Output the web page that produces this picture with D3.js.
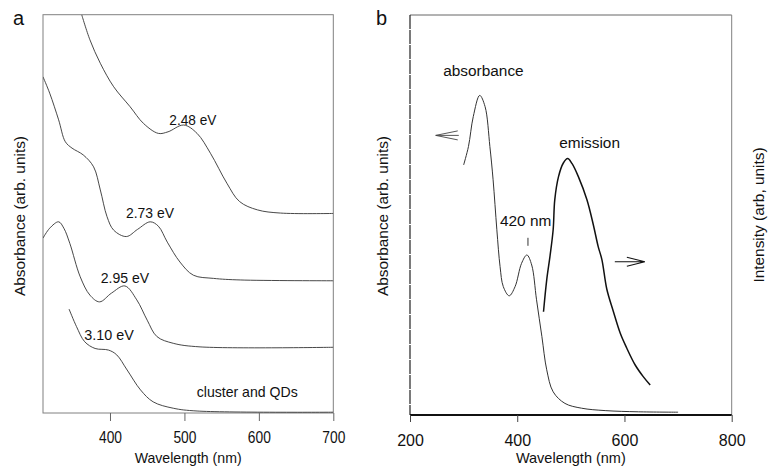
<!DOCTYPE html>
<html>
<head>
<meta charset="utf-8">
<script src="https://cdn.jsdelivr.net/npm/d3@7"></script>
<style>
body { margin: 0; background: #fff; }
svg { display: block; font-family: "Liberation Sans", Arial, Helvetica, sans-serif; }
</style>
</head>
<body>
<svg id="chart" width="768" height="468"></svg>
<script>
// ---- panel a: absorbance of cluster and QDs, stacked (arb. units, 0-100) ----
var wl248 = [362, 373, 387, 405, 427, 445, 465, 478, 499, 517, 535, 557, 574, 598, 629, 700];
var abs248 = [100, 93.7, 87.8, 81.9, 76.9, 72.7, 70.2, 70.6, 72.3, 70.2, 65.2, 57.7, 53.1, 51.0, 50.2, 50.1];

var wl273 = [310, 319, 331, 340, 349, 364, 378, 387, 396, 405, 422, 437, 454, 465, 477, 494, 512, 539, 575, 700];
var abs273 = [84.4, 80.3, 73.6, 68.1, 66.5, 64.8, 61.8, 56.0, 49.3, 45.9, 44.3, 46.1, 48.0, 46.9, 42.9, 37.9, 34.6, 33.8, 33.4, 33.2];

var wl295 = [310, 319, 331, 338, 346, 360, 373, 386, 402, 420, 436, 450, 463, 485, 521, 700];
var abs295 = [43.9, 46.4, 48.0, 46.4, 42.6, 34.2, 29.6, 27.9, 30.1, 31.9, 28.4, 23.3, 19.2, 17.5, 16.6, 16.5];

var wl310 = [345, 355, 366, 380, 398, 409, 423, 441, 458, 485, 517, 700];
var abs310 = [26.1, 21.7, 17.9, 16.2, 15.8, 14.6, 10.8, 5.8, 2.8, 1.2, 0.5, 0.2];

var ticksA = [400, 500, 600, 700];

// ---- panel b: absorbance (left axis) and emission (right axis) ----
var wlAbsB = [300, 309, 318, 330, 340, 349, 355, 362, 368, 374, 385, 396, 408, 418, 427, 436, 446, 455, 467, 489, 520, 564, 626, 700];
var absB = [62.5, 67.1, 74.6, 79.9, 77.1, 67.1, 58.8, 46.3, 37.1, 32.1, 29.8, 32.1, 37.9, 40.0, 37.5, 28.8, 19.6, 11.3, 5.8, 2.9, 1.7, 1.1, 0.8, 0.7];

var wlEmB = [449, 455, 461, 467, 470, 477, 486, 494, 502, 514, 530, 542, 551, 558, 567, 579, 592, 604, 620, 635, 648];
var emB = [25.8, 33.8, 39.6, 46.3, 53.8, 59.6, 63.0, 64.1, 62.9, 59.6, 53.8, 47.5, 42.1, 38.8, 31.5, 26.0, 20.5, 16.8, 12.5, 9.6, 7.5];

var ticksB = [200, 400, 600, 800];
var peakMark = 420;

var svg = d3.select('#chart');
var ink = '#111';

// frames
var A = { left: 43, right: 333.3, top: 14.7, bottom: 413 };
var B = { left: 410, right: 731.7, top: 15, bottom: 415 };

var xA = d3.scaleLinear().domain([310, 700]).range([A.left, A.right]);
var yA = d3.scaleLinear().domain([0, 100]).range([A.bottom, A.top]);
var xB = d3.scaleLinear().domain([200, 800]).range([B.left, B.right]);
var yAbs = d3.scaleLinear().domain([0, 100]).range([B.bottom, B.top]);
var yInt = d3.scaleLinear().domain([0, 100]).range([B.bottom, B.top]);

var smooth = d3.curveCatmullRom.alpha(0.5);

function zip(xs, ys) {
    return xs.map(function (x, i) { return [x, ys[i]]; });
}

// condensed text helper (panel a lettering is squeezed horizontally)
function squeeze(sel, w) {
    sel.attr('textLength', w).attr('lengthAdjust', 'spacingAndGlyphs');
}

/* ================= panel a ================= */
svg.append('clipPath').attr('id', 'clipA')
    .append('rect')
    .attr('x', A.left).attr('y', A.top)
    .attr('width', A.right - A.left).attr('height', A.bottom - A.top);

svg.append('rect')
    .attr('x', A.left).attr('y', A.top)
    .attr('width', A.right - A.left).attr('height', A.bottom - A.top)
    .attr('fill', 'none').attr('stroke', '#808080').attr('stroke-width', 1);

var lineA = d3.line()
    .x(function (d) { return xA(d[0]); })
    .y(function (d) { return yA(d[1]); })
    .curve(smooth);

var seriesA = [zip(wl248, abs248), zip(wl273, abs273), zip(wl295, abs295), zip(wl310, abs310)];

svg.append('g').attr('clip-path', 'url(#clipA)')
    .selectAll('path')
    .data(seriesA)
    .enter().append('path')
    .attr('d', lineA)
    .attr('fill', 'none')
    .attr('stroke', '#333')
    .attr('stroke-width', 0.9);

var axA = d3.axisBottom(xA)
    .tickValues(ticksA)
    .tickSize(8)
    .tickSizeOuter(0)
    .tickPadding(10.5)
    .tickFormat(d3.format('d'));

var gA = svg.append('g')
    .attr('transform', 'translate(0,' + A.bottom + ')')
    .call(axA)
    .attr('font-family', null)
    .attr('font-size', 16);
gA.select('.domain').remove();
gA.selectAll('.tick line').attr('stroke', '#666');
gA.selectAll('.tick text').attr('fill', ink).call(squeeze, 23);

// peak labels, panel a
var labelsA = [
    { t: '2.48 eV', x: 479.7, y: 72.3, w: 47 },
    { t: '2.73 eV', x: 421.5, y: 49.0, w: 48 },
    { t: '2.95 eV', x: 387.5, y: 32.6, w: 48.5 },
    { t: '3.10 eV', x: 365.5, y: 18.3, w: 49.5 },
    { t: 'cluster and QDs', x: 516.5, y: 4.0, w: 101 }
];
svg.append('g').selectAll('text')
    .data(labelsA)
    .enter().append('text')
    .attr('x', function (d) { return xA(d.x); })
    .attr('y', function (d) { return yA(d.y); })
    .attr('font-size', 14.5)
    .attr('fill', ink)
    .text(function (d) { return d.t; })
    .each(function (d) { squeeze(d3.select(this), d.w); });

svg.append('text')
    .attr('x', (A.left + A.right) / 2).attr('y', 463)
    .attr('text-anchor', 'middle')
    .attr('font-size', 15).attr('fill', ink)
    .text('Wavelength (nm)')
    .call(squeeze, 107);

svg.append('text')
    .attr('transform', 'translate(25,216) rotate(-90)')
    .attr('text-anchor', 'middle')
    .attr('font-size', 15.4).attr('fill', ink)
    .text('Absorbance (arb. units)');

svg.append('text')
    .attr('x', 13).attr('y', 25)
    .attr('font-size', 20).attr('fill', ink)
    .text('a');

/* ================= panel b ================= */
// frame: thin top/right, near-solid left, heavy bottom
svg.append('line')
    .attr('x1', B.left).attr('x2', B.right).attr('y1', B.top).attr('y2', B.top)
    .attr('stroke', '#666').attr('stroke-width', 1);
svg.append('line')
    .attr('x1', B.right).attr('x2', B.right).attr('y1', B.top).attr('y2', B.bottom)
    .attr('stroke', '#808080').attr('stroke-width', 1);
svg.append('line')
    .attr('x1', B.left).attr('x2', B.left).attr('y1', B.top).attr('y2', B.bottom)
    .attr('stroke', '#222').attr('stroke-width', 1.2)
    .attr('stroke-dasharray', '14,1');

var lineAbs = d3.line()
    .x(function (d) { return xB(d[0]); })
    .y(function (d) { return yAbs(d[1]); })
    .curve(smooth);
var lineEm = d3.line()
    .x(function (d) { return xB(d[0]); })
    .y(function (d) { return yInt(d[1]); })
    .curve(smooth);

svg.append('path')
    .datum(zip(wlAbsB, absB))
    .attr('d', lineAbs)
    .attr('fill', 'none').attr('stroke', '#333').attr('stroke-width', 1);

svg.append('path')
    .datum(zip(wlEmB, emB))
    .attr('d', lineEm)
    .attr('fill', 'none').attr('stroke', ink).attr('stroke-width', 1.5);

var axB = d3.axisBottom(xB)
    .tickValues(ticksB)
    .tickSize(7)
    .tickSizeOuter(0)
    .tickPadding(12.5)
    .tickFormat(d3.format('d'));

var gB = svg.append('g')
    .attr('transform', 'translate(0,' + B.bottom + ')')
    .call(axB)
    .attr('font-family', null)
    .attr('font-size', 16);
gB.select('.domain')
    .attr('d', 'M' + B.left + ',0H' + B.right)
    .attr('stroke', ink).attr('stroke-width', 2);
gB.selectAll('.tick line').attr('stroke', '#444');
gB.selectAll('.tick text').attr('fill', ink);

// 420 nm marker
svg.append('line')
    .attr('x1', xB(peakMark)).attr('x2', xB(peakMark))
    .attr('y1', yAbs(44.3)).attr('y2', yAbs(42.3))
    .attr('stroke', '#333').attr('stroke-width', 1);

// arrows: absorbance -> left axis, emission -> right axis
function arrow(x0, x1, y, arm) {
    var dir = x1 > x0 ? -1 : 1;
    return 'M' + x0 + ',' + y + 'H' + x1 +
        'M' + (x1 + dir * arm) + ',' + (y - 4.5) + 'L' + x1 + ',' + y + 'L' + (x1 + dir * arm) + ',' + (y + 4.5);
}
svg.append('path')
    .attr('d', arrow(xB(291), xB(248), yAbs(69.9), 22))
    .attr('fill', 'none').attr('stroke', '#444').attr('stroke-width', 0.9);
svg.append('path')
    .attr('d', arrow(xB(582), xB(638), yInt(38.3), 18))
    .attr('fill', 'none').attr('stroke', ink).attr('stroke-width', 1.1);

var labelsB = [
    { t: 'absorbance', x: 262, y: 84.75 },
    { t: 'emission', x: 478.4, y: 66.8 },
    { t: '420 nm', x: 367.8, y: 47.25 }
];
svg.append('g').selectAll('text')
    .data(labelsB)
    .enter().append('text')
    .attr('x', function (d) { return xB(d.x); })
    .attr('y', function (d) { return yAbs(d.y); })
    .attr('font-size', 15.4)
    .attr('fill', ink)
    .text(function (d) { return d.t; });

svg.append('text')
    .attr('x', (B.left + B.right) / 2).attr('y', 463)
    .attr('text-anchor', 'middle')
    .attr('font-size', 14.5).attr('fill', ink)
    .text('Wavelength (nm)');

svg.append('text')
    .attr('transform', 'translate(388,216) rotate(-90)')
    .attr('text-anchor', 'middle')
    .attr('font-size', 15.4).attr('fill', ink)
    .text('Absorbance (arb. units)');

svg.append('text')
    .attr('transform', 'translate(764,215) rotate(-90)')
    .attr('text-anchor', 'middle')
    .attr('font-size', 15.4).attr('fill', ink)
    .text('Intensity (arb, units)');

svg.append('text')
    .attr('x', 376).attr('y', 25)
    .attr('font-size', 20).attr('fill', ink)
    .text('b');
</script>
</body>
</html>
